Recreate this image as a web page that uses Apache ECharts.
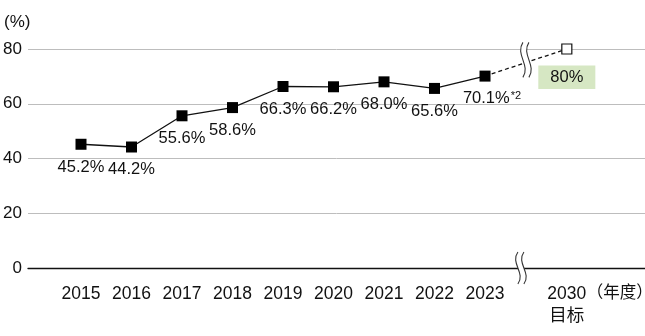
<!DOCTYPE html>
<html><head><meta charset="utf-8">
<script src="https://cdn.jsdelivr.net/npm/echarts@6/dist/echarts.min.js"></script>
<style>html,body{margin:0;padding:0;background:#fff}#c{width:645px;height:336px}</style>
</head><body><div id="c"></div>
<script>
const years = ['2015','2016','2017','2018','2019','2020','2021','2022','2023'];
const actual = [45.2, 44.2, 55.6, 58.6, 66.3, 66.2, 68.0, 65.6, 70.1];
const targetYear = '2030';
const targetNote = '目标';
const targetValue = 80;
const yTicks = [0, 20, 40, 60, 80];
const unitY = '(%)';
const unitX = '（年度）';
const lastNote = '*2';

// layout: slot positions on the compressed x axis
const TARGET_SLOT = 9.62;
const BREAK_SLOT = 8.79;

const FONT = '"Liberation Sans", Arial, "Noto Sans CJK SC", sans-serif';
const INK = '#111';

const chart = echarts.init(document.getElementById('c'), null, {renderer: 'canvas'});

const actualData = actual.map((v, i) => [i, v]);
const lastIdx = actual.length - 1;

const option = {
  animation: false,
  backgroundColor: '#fff',
  textStyle: {fontFamily: FONT},
  grid: {left: 28, right: 0, top: 49, bottom: 68, containLabel: false},
  xAxis: {
    type: 'value',
    min: -1.0495, max: 11.168,
    axisLine: {show: true, onZero: false, lineStyle: {color: INK, width: 1.3}},
    axisTick: {show: false},
    splitLine: {show: false},
    axisLabel: {
      customValues: years.map((_, i) => i).concat([TARGET_SLOT]),
      formatter: v => {
        if (Math.abs(v - TARGET_SLOT) < 0.01) return targetYear + '\n' + targetNote;
        return years[Math.round(v)];
      },
      fontSize: 17.5, color: INK, fontFamily: FONT, margin: 15, lineHeight: 22,
      hideOverlap: false
    }
  },
  yAxis: {
    type: 'value', min: yTicks[0], max: yTicks[yTicks.length - 1], interval: 20,
    axisLine: {show: false}, axisTick: {show: false},
    splitLine: {show: true, lineStyle: {color: '#bdbdbd', width: 1}},
    axisLabel: {fontSize: 17, color: INK, fontFamily: FONT, margin: 6}
  },
  series: [
    {
      type: 'line',
      data: actualData,
      symbol: 'rect', symbolSize: 11,
      lineStyle: {color: INK, width: 1.3},
      itemStyle: {color: '#000'},
      z: 3,
      label: {
        show: true, position: 'bottom', distance: 9,
        fontSize: 16.5, color: INK, fontFamily: FONT,
        formatter: p => p.dataIndex === lastIdx
          ? '{a|' + p.value[1].toFixed(1) + '%}{s|' + lastNote + '}'
          : p.value[1].toFixed(1) + '%',
        rich: {
          a: {fontSize: 16.5, color: INK, fontFamily: FONT},
          s: {fontSize: 11, color: INK, fontFamily: FONT, padding: [0, 0, 5, 1]}
        }
      },
      labelLayout: p => p.dataIndex === lastIdx ? {dx: 7} : {}
    },
    {
      type: 'line',
      data: [[lastIdx, actual[lastIdx]], [TARGET_SLOT, targetValue]],
      symbol: (val, p) => p.dataIndex === 0 ? 'none' : 'rect',
      symbolSize: 10, showSymbol: true,
      lineStyle: {color: INK, width: 1.3, type: [4, 3]},
      itemStyle: {color: '#fff', borderColor: INK, borderWidth: 1.2},
      z: 2,
      label: {
        show: true, position: 'bottom', distance: 11,
        formatter: p => p.dataIndex === 1 ? targetValue + '%' : '',
        fontSize: 16.5, color: INK, fontFamily: FONT,
        backgroundColor: '#d6e7c3', padding: [4, 12, 3, 12]
      }
    }
  ]
};

chart.setOption(option);

function bez(p0, p1, p2, p3, n) {
  const pts = [];
  for (let i = 0; i <= n; i++) {
    const t = i / n, u = 1 - t;
    pts.push([
      u*u*u*p0[0] + 3*u*u*t*p1[0] + 3*u*t*t*p2[0] + t*t*t*p3[0],
      u*u*u*p0[1] + 3*u*u*t*p1[1] + 3*u*t*t*p2[1] + t*t*t*p3[1]
    ]);
  }
  return pts;
}

function wave(cx, cy, h) {
  const half = h / 2, g = 3, b = 8;
  const ctrl = x => [[cx + x, cy - half], [cx + x - b, cy - half * 0.3], [cx + x + b, cy + half * 0.3], [cx + x, cy + half]];
  const L = ctrl(-g), R = ctrl(g);
  const band = bez(...L, 20).concat(bez(...R, 20).reverse());
  const curveEl = c => ({
    type: 'bezierCurve', z: 101,
    shape: {x1: c[0][0], y1: c[0][1], cpx1: c[1][0], cpy1: c[1][1], cpx2: c[2][0], cpy2: c[2][1], x2: c[3][0], y2: c[3][1]},
    style: {fill: null, stroke: '#333', lineWidth: 1.1}
  });
  return [
    {type: 'polygon', z: 100, shape: {points: band}, style: {fill: '#fff', stroke: null}},
    curveEl(L), curveEl(R)
  ];
}

const pTop = chart.convertToPixel({xAxisIndex: 0, yAxisIndex: 0}, [BREAK_SLOT, actual[lastIdx]]);
const pBot = chart.convertToPixel({xAxisIndex: 0, yAxisIndex: 0}, [BREAK_SLOT, 0]);
const lastPx = chart.convertToPixel({xAxisIndex: 0, yAxisIndex: 0}, [lastIdx, actual[lastIdx]]);
const tgtPx = chart.convertToPixel({xAxisIndex: 0, yAxisIndex: 0}, [TARGET_SLOT, targetValue]);
const tt = (pTop[0] - lastPx[0]) / (tgtPx[0] - lastPx[0]);
const yLine = lastPx[1] + tt * (tgtPx[1] - lastPx[1]);

chart.setOption({
  graphic: [
    {type: 'text', left: 4, top: 14, z: 100,
     style: {text: unitY, fontSize: 17, fill: INK, fontFamily: FONT}},
    {type: 'text', x: tgtPx[0] + 20, y: 285, z: 100,
     style: {text: unitX, fontSize: 16.5, fill: INK, fontFamily: FONT}}
  ].concat(wave(pTop[0] + 1, yLine - 3, 35)).concat(wave(pBot[0] - 4, pBot[1], 32))
});
</script>
</body></html>
